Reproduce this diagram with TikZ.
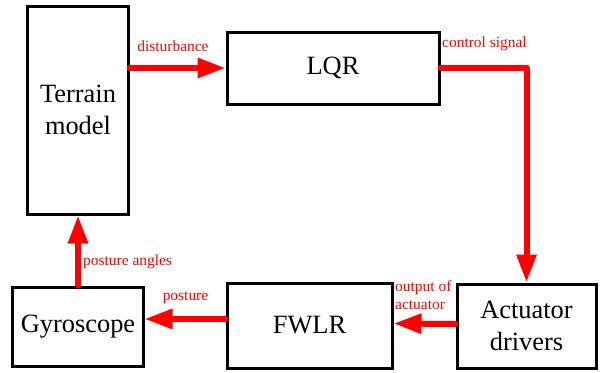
\documentclass[tikz,border=0pt]{standalone}
\usepackage{fontspec}
\setmainfont{LiberationSerif}[Extension=.ttf,UprightFont=*-Regular,BoldFont=*-Bold,ItalicFont=*-Italic,BoldItalicFont=*-BoldItalic]
\usetikzlibrary{arrows.meta}
\begin{document}
\begin{tikzpicture}[x=1bp,y=-1bp,
  block/.style={draw=black,line width=3bp,rectangle,inner sep=0pt,align=center,
    font=\fontsize{26.5}{32}\selectfont},
  flow/.style={draw=red,line width=6bp,line cap=round,line join=round,
    -{Triangle[length=28bp,width=19bp]}},
  tag/.style={text=red,inner sep=0pt,align=left,font=\fontsize{15.5}{18}\selectfont}]
\useasboundingbox (0,0) rectangle (603,372);
% blocks
\node[block,minimum width=100bp,minimum height=208bp] (terrain) at (78,110) {Terrain\\model};
\node[block,minimum width=212bp,minimum height=72bp] (lqr) at (333,68) {LQR};
\node[block,minimum width=139bp,minimum height=84bp] (act) at (526.5,326) {Actuator\\drivers};
\node[block,minimum width=165bp,minimum height=85bp] (fwlr) at (309.5,325.5) {FWLR};
\node[block,minimum width=130bp,minimum height=79bp] (gyro) at (78,326.5) {Gyroscope};
% connection points on block sides
\coordinate (postsrc) at ([yshift=6.5bp]fwlr.west);
\coordinate (postdst) at (gyro.east |- postsrc);
% signal paths
\draw[flow] (terrain.east |- lqr.west) -- (lqr.west);
\draw[flow] (lqr.east) -| (act.north);
\draw[flow] ([yshift=2bp]act.west) -- ([yshift=2bp]fwlr.east);
\draw[flow] (postsrc) -- (postdst);
\draw[flow] (gyro.north) -- (terrain.south);
% signal names
\node[tag] (tdist) at (173,46) {disturbance};
\node[tag,anchor=west] (tctrl) at (442,44) {control signal};
\node[tag,anchor=west] (tout) at (395,295) {output of\\actuator};
\node[tag] (tpost) at (185.5,298) {posture};
\node[tag,anchor=west] (tang) at (83,262) {posture angles};
\end{tikzpicture}
\end{document}
